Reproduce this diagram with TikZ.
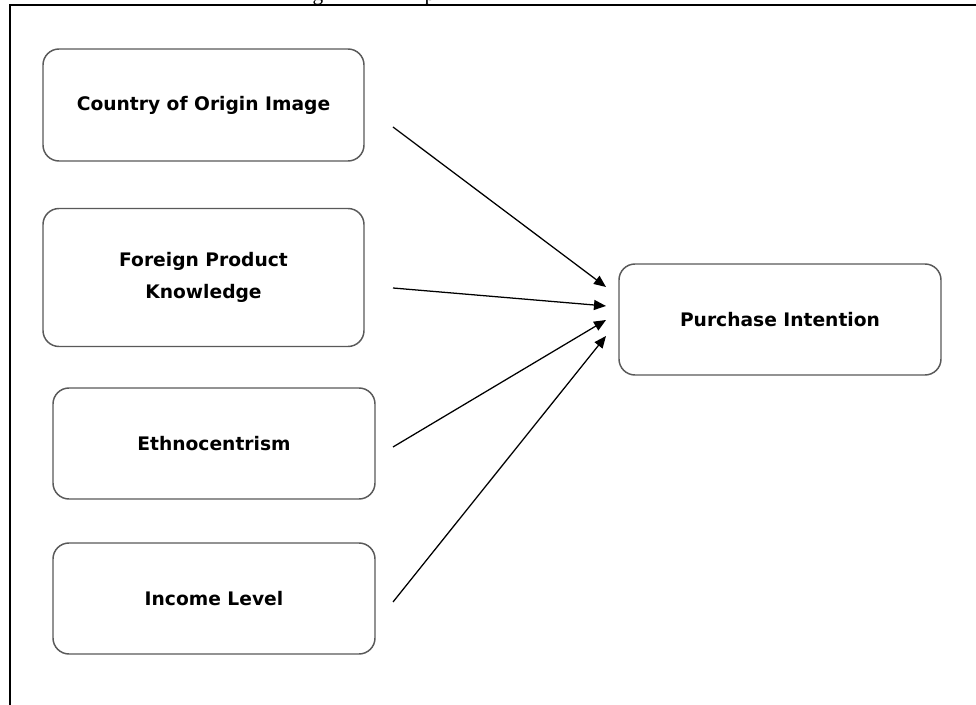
\documentclass[tikz,border=0pt]{standalone}
\usepackage{fontspec}
\setmainfont{DejaVu Sans}
\newfontfamily\capfont{Liberation Serif}
\usetikzlibrary{arrows.meta}
\tikzset{
  box/.style={draw=black!65, line width=1.1pt, rounded corners=12pt, fill=white,
    font=\bfseries\fontsize{14}{23.5}\selectfont, align=center, inner sep=0pt},
  link/.style={draw=black, line width=0.95pt, -{Triangle[length=9pt,width=7.5pt]}},
  frame/.style={draw=black, line width=1.1pt}
}
\begin{document}
\begin{tikzpicture}[x=0.75pt,y=-0.75pt]
\useasboundingbox (0,0) rectangle (976,705);
% cut-off caption descenders
\begin{scope}
\clip (0,0) rectangle (976,6);
\node[font=\capfont\fontsize{16}{16}\selectfont, anchor=base, inner sep=0pt] (capg) at (318,0.5) {g};
\node[font=\capfont\fontsize{16}{16}\selectfont, anchor=base, inner sep=0pt] (capp) at (430,0.5) {p};
\end{scope}
% frame
\coordinate (ftr) at (976,5);
\coordinate (ftl) at (10,5);
\coordinate (fbl) at (10,705);
\draw[frame] (ftr) -- (ftl) -- (fbl);
% boxes
\node[box, minimum width=321*0.75pt, minimum height=112*0.75pt] (coo) at (203.5,105) {Country of Origin Image};
\node[box, minimum width=321*0.75pt, minimum height=138*0.75pt] (fpk) at (203.5,277.5) {Foreign Product\\Knowledge};
\node[box, minimum width=322*0.75pt, minimum height=111*0.75pt] (eth) at (214,443.5) {Ethnocentrism};
\node[box, minimum width=322*0.75pt, minimum height=111*0.75pt] (inc) at (214,598.5) {Income Level};
\node[box, minimum width=322*0.75pt, minimum height=111*0.75pt] (pi) at (780,319.5) {Purchase Intention};
% arrow ends
\coordinate (s1) at (393,127);
\coordinate (s2) at (393,288);
\coordinate (s3) at (393,447);
\coordinate (s4) at (393,602);
\coordinate (t1) at (606,287);
\coordinate (t2) at (606,306);
\coordinate (t3) at (606,320);
\coordinate (t4) at (606,336);
\draw[link] (s1) -- (t1);
\draw[link] (s2) -- (t2);
\draw[link] (s3) -- (t3);
\draw[link] (s4) -- (t4);
\end{tikzpicture}
\end{document}
